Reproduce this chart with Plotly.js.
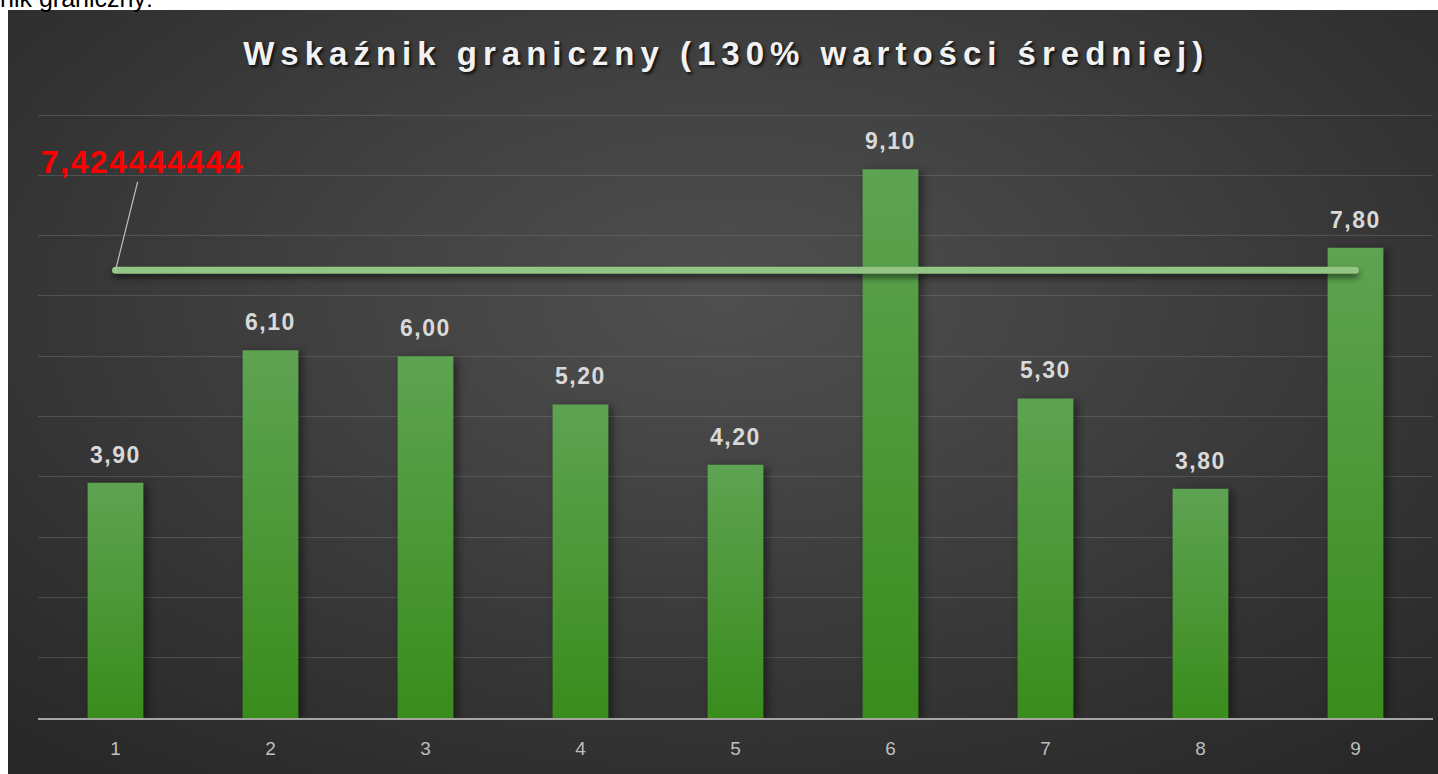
<!DOCTYPE html>
<html>
<head>
<meta charset="utf-8">
<script src="https://cdn.plot.ly/plotly-3.0.1.min.js"></script>
<style>
  html, body { margin: 0; padding: 0; background: #ffffff; width: 1438px; height: 774px; overflow: hidden; }
  #bg { position: absolute; left: 8px; top: 10px; width: 1430px; height: 764px;
        background: radial-gradient(ellipse 75% 80% at 50% 38%, #4f4f4f 0%, #424242 35%, #333333 70%, #272727 100%); }
  #toptext { position: absolute; left: 0px; top: -16px; font-family: 'Liberation Sans', Arial, sans-serif;
             font-size: 25px; color: #000; white-space: nowrap; }
  #chart { position: absolute; left: 0; top: 0; width: 1438px; height: 774px; }
  #chart .gtitle { letter-spacing: 6px; }
  #chart g.annotation text { letter-spacing: 1.5px; }
  #chart .bars .point path { fill: url(#barGrad) !important; filter: drop-shadow(4px 2px 4px rgba(0,0,0,0.45)); }
  #chart .scatterlayer .js-line { stroke-linecap: round; filter: drop-shadow(0px 4px 3px rgba(0,0,0,0.55)); }
</style>
</head>
<body>
<svg width="0" height="0" style="position:absolute">
  <defs>
    <linearGradient id="barGrad" x1="0" y1="0" x2="0" y2="1">
      <stop offset="0%" stop-color="#5ea352"/>
      <stop offset="100%" stop-color="#3a8c1c"/>
    </linearGradient>
  </defs>
</svg>
<div id="bg"></div>
<div id="toptext">nik graniczny:</div>
<div id="chart"></div>
<script>
const categories = ['1', '2', '3', '4', '5', '6', '7', '8', '9'];
const values = [3.90, 6.10, 6.00, 5.20, 4.20, 9.10, 5.30, 3.80, 7.80];
const threshold = 7.424444444;
const titleText = 'Wskaźnik graniczny (130% wartości średniej)';

const fontFam = "'Liberation Sans', Arial, sans-serif";
const fmt = v => v.toFixed(2).replace('.', ',');

const barTrace = {
  type: 'bar',
  x: categories,
  y: values,
  marker: { color: '#4c9a3a' },
  hoverinfo: 'skip',
  showlegend: false
};

const lineTrace = {
  type: 'scatter',
  mode: 'lines',
  x: [categories[0], categories[categories.length - 1]],
  y: [threshold, threshold],
  line: { color: '#93c585', width: 7 },
  hoverinfo: 'skip',
  showlegend: false
};

// annotations on a category axis: use the category index
const annotations = categories.map((c, i) => ({
  x: i, y: values[i], xref: 'x', yref: 'y',
  text: fmt(values[i]),
  showarrow: false,
  yanchor: 'bottom',
  yshift: 13,
  font: { family: fontFam, size: 23, color: '#d9d9d9', weight: 'bold' }
}));

annotations.push({
  x: 0, y: threshold, xref: 'x', yref: 'y',
  text: threshold.toFixed(9).replace('.', ','),
  showarrow: true,
  arrowhead: 0,
  arrowwidth: 1.2,
  arrowcolor: '#c0c0c0',
  ax: 27, ay: -108,
  font: { family: fontFam, size: 32, color: '#ff0000', weight: 'bold' }
});

const layout = {
  width: 1438,
  height: 774,
  paper_bgcolor: 'rgba(0,0,0,0)',
  plot_bgcolor: 'rgba(0,0,0,0)',
  margin: { l: 38, r: 5, t: 112, b: 56 },
  separators: ', ',
  bargap: 0.64,
  title: {
    text: titleText,
    x: 0.505, xref: 'container', xanchor: 'center',
    y: 1 - 53 / 774, yref: 'container', yanchor: 'middle',
    font: { family: fontFam, size: 33, color: '#f2f2f2', weight: 'bold', shadow: '2px 2px 3px rgba(0,0,0,0.75)' }
  },
  xaxis: {
    type: 'category',
    range: [-0.5, categories.length - 0.5],
    autorange: false,
    showgrid: false,
    showline: true,
    linecolor: '#a6a6a6',
    linewidth: 2,
    ticks: '',
    ticklabelstandoff: 12,
    tickfont: { family: fontFam, size: 19, color: '#bfbfbf' },
    fixedrange: true
  },
  yaxis: {
    range: [0, 10.05],
    autorange: false,
    tickmode: 'linear',
    tick0: 0,
    dtick: 1,
    showgrid: true,
    gridcolor: 'rgba(255,255,255,0.13)',
    gridwidth: 1,
    zeroline: false,
    showticklabels: false,
    ticks: '',
    fixedrange: true
  },
  annotations: annotations,
  showlegend: false
};

Plotly.newPlot('chart', [barTrace, lineTrace], layout, { displayModeBar: false, staticPlot: true });
</script>
</body>
</html>
